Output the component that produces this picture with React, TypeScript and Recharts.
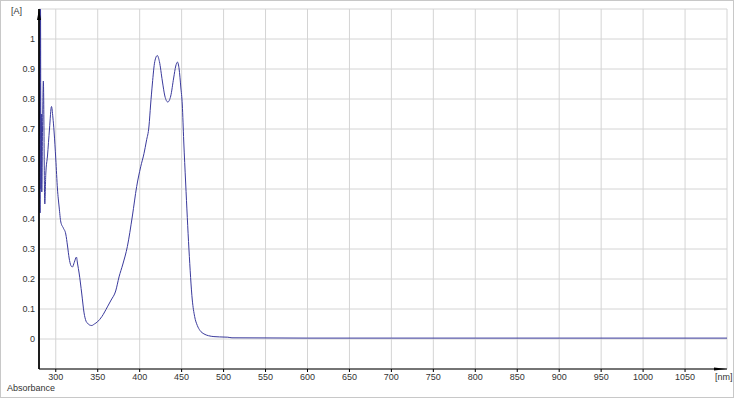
import { CartesianGrid, Line, LineChart, XAxis, YAxis } from "recharts";

const wavelengths = [
  280, 280.8, 281.3, 281.8, 282.3, 282.8, 283.3, 284.2, 285.2, 286.9, 288.1, 290.1, 292.5, 294.9,
  296.5, 298, 300, 302, 304, 306, 309, 311.9, 314, 315.9, 318, 319.8, 322, 324.6, 326, 327.8, 331,
  333.7, 336, 337.7, 340, 342.9, 346, 349.6, 355, 361.5, 366, 371.4, 375.4, 380, 385.3, 391.3,
  396.4, 401.2, 405.2, 408, 411.1, 413, 415.1, 418, 421, 423.5, 427, 430, 433.5, 437, 440.5, 443,
  445, 447, 449, 450.8, 452.5, 454.8, 458.7, 462.7, 465.5, 468.7, 472, 476.6, 482, 488.5, 495, 505,
  510, 600, 700, 800, 900, 1000, 1100,
];
const absorbance = [
  1.1, 0.6, 0.42, 1.1, 0.5, 0.75, 0.49, 0.7, 0.86, 0.45, 0.55, 0.61, 0.7, 0.775, 0.74, 0.69, 0.6,
  0.5, 0.44, 0.39, 0.37, 0.35, 0.31, 0.27, 0.245, 0.24, 0.255, 0.273, 0.25, 0.22, 0.15, 0.087, 0.06,
  0.053, 0.047, 0.045, 0.05, 0.057, 0.075, 0.107, 0.13, 0.16, 0.207, 0.25, 0.308, 0.41, 0.508, 0.574,
  0.619, 0.66, 0.71, 0.78, 0.85, 0.925, 0.945, 0.925, 0.86, 0.81, 0.79, 0.81, 0.87, 0.91, 0.923,
  0.9, 0.84, 0.78, 0.66, 0.52, 0.3, 0.13, 0.075, 0.045, 0.028, 0.017, 0.011, 0.008, 0.007, 0.006,
  0.004, 0.003, 0.003, 0.003, 0.003, 0.003, 0.003,
];
const xTicks = [300, 350, 400, 450, 500, 550, 600, 650, 700, 750, 800, 850, 900, 950, 1000, 1050];
const yTicks = [-0.1, 0, 0.1, 0.2, 0.3, 0.4, 0.5, 0.6, 0.7, 0.8, 0.9, 1, 1.1];

const data = wavelengths.map((nm, i) => ({ nm, a: absorbance[i] }));

const FONT = "'Liberation Sans', Arial, sans-serif";
const tick = { fill: "#333", fontSize: 9, fontFamily: FONT };

const yLabel = (v: number) => (v < -0.05 || v > 1.05 ? "" : String(Math.round(v * 10) / 10));

export default function App() {
  return (
    <div style={{ position: "relative", width: 738, height: 400, background: "#fff" }}>
      <style>{"body{margin:0}"}</style>
      <LineChart width={738} height={400} data={data} margin={{ top: 9, right: 11, bottom: 0, left: 0 }}>
        <CartesianGrid stroke="#d4d4d4" />
        <XAxis
          dataKey="nm"
          type="number"
          domain={[280, 1100]}
          ticks={xTicks}
          height={31}
          tick={tick}
          tickSize={3}
          tickMargin={2}
          tickLine={{ stroke: "#000" }}
          axisLine={{ stroke: "#000" }}
          allowDataOverflow
        />
        <YAxis
          type="number"
          domain={[-0.1, 1.1]}
          ticks={yTicks}
          width={39}
          tick={tick}
          tickFormatter={yLabel}
          tickSize={2}
          tickMargin={2}
          tickLine={false}
          axisLine={{ stroke: "#000" }}
          allowDataOverflow
        />
        <Line type="monotone" dataKey="a" stroke="#3a3a9c" strokeWidth={1} dot={false} isAnimationActive={false} />
      </LineChart>
      <svg
        width={738}
        height={400}
        style={{ position: "absolute", left: 0, top: 0, pointerEvents: "none" }}
      >
        <rect x={0.5} y={0.5} width={733} height={397} fill="none" stroke="#c8c8c8" />
        <line x1={39} y1={9} x2={39} y2={369} stroke="#000" strokeWidth={1.5} />
        <polygon points="39,9 37,20 41,20" fill="#000" />
        <polygon points="727,369 714,367.5 714,370.5" fill="#000" />
        <text x={11} y={14} fontSize={9} fontFamily={FONT} fill="#333">[A]</text>
        <text x={715} y={380} fontSize={9} fontFamily={FONT} fill="#333">[nm]</text>
        <text x={7} y={391} fontSize={9} fontFamily={FONT} fill="#333">Absorbance</text>
      </svg>
    </div>
  );
}
